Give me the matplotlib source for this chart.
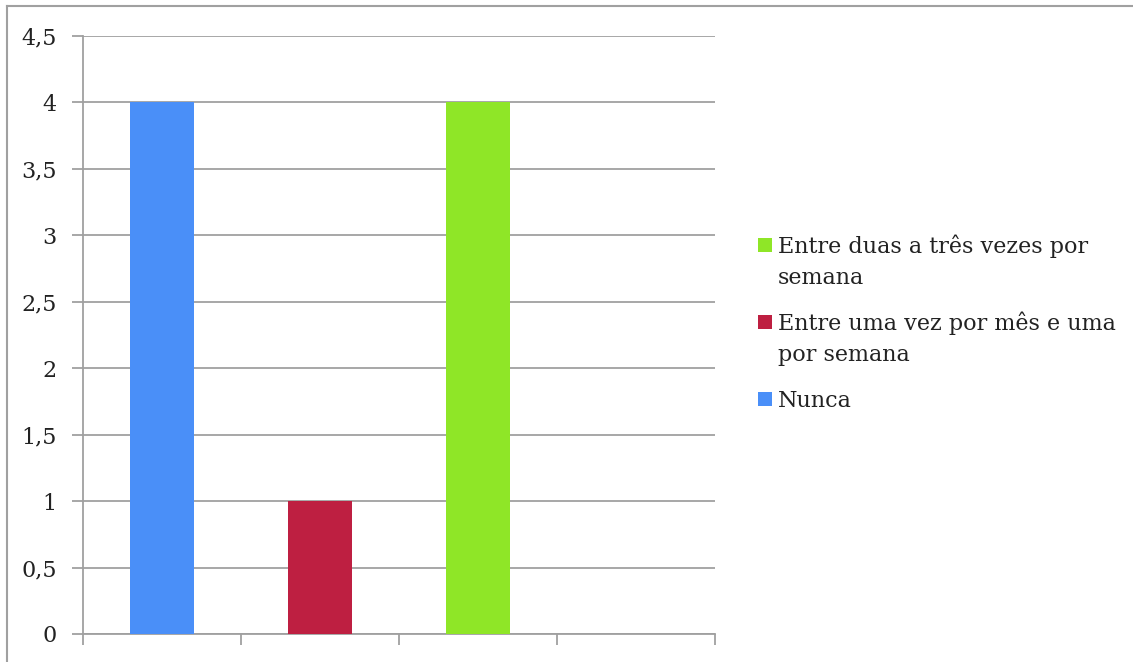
import matplotlib
matplotlib.use("Agg")
import matplotlib.pyplot as plt
from matplotlib.patches import Rectangle
from matplotlib.lines import Line2D

categories = ["Nunca", "Entre uma vez por mês e uma\npor semana", "Entre duas a três vezes por\nsemana", ""]
values = [4, 1, 4, 0]
colors = ["#4A8FF8", "#BE1F41", "#8FE627", "#FFFFFF"]
yticks = [0, 0.5, 1, 1.5, 2, 2.5, 3, 3.5, 4, 4.5]
ytick_labels = ["0", "0,5", "1", "1,5", "2", "2,5", "3", "3,5", "4", "4,5"]
legend_order = [2, 1, 0]

plt.rcParams['font.family'] = ['DejaVu Serif']
W, H = 1133, 662
fig = plt.figure(figsize=(W/100, H/100), dpi=100)
ax = fig.add_axes([83/W, 1-634/H, 632/W, 598/H])

x = list(range(len(values)))
ax.bar(x, values, width=0.4, color=colors, zorder=3)
ax.set_xlim(-0.5, len(values)-0.5)
ax.set_ylim(0, 4.5)
ax.set_yticks(yticks)
ax.set_yticklabels(ytick_labels, fontsize=16, color="#222222")
ax.set_xticks([i-0.5 for i in range(len(values)+1)])
ax.set_xticklabels([])
gc = "#A0A0A0"
ax.yaxis.grid(True, color=gc, linewidth=1.3, zorder=0)
for s in ["top", "right"]:
    ax.spines[s].set_visible(False)
for s in ["left", "bottom"]:
    ax.spines[s].set_color(gc)
    ax.spines[s].set_linewidth(1.3)
ax.tick_params(axis="both", direction="out", length=8, width=1.3, color=gc)
ax.tick_params(axis="y", pad=11)

# manual legend (square aligned with first line of each label)
line_pitch = 31
entry_gap = 46
baseline = 253
for i in legend_order:
    lab = categories[i]
    nlines = lab.count("\n") + 1
    fig.add_artist(Rectangle((758/W, 1-(baseline-1)/H), 14/W, 14/H,
                             transform=fig.transFigure, facecolor=colors[i],
                             edgecolor="none"))
    for k, ln in enumerate(lab.split("\n")):
        fig.text(778/W, 1-(baseline + k*line_pitch)/H, ln, fontsize=16,
                 color="#222222", ha="left", va="baseline")
    baseline += (nlines-1)*line_pitch + entry_gap

fig.add_artist(Line2D([7/W, 7/W], [0, 1-6/H], color="#A0A0A0", linewidth=1.5))
fig.add_artist(Line2D([7/W, 1], [1-6/H, 1-6/H], color="#A0A0A0", linewidth=1.5))

fig.savefig("out.png", dpi=100)
